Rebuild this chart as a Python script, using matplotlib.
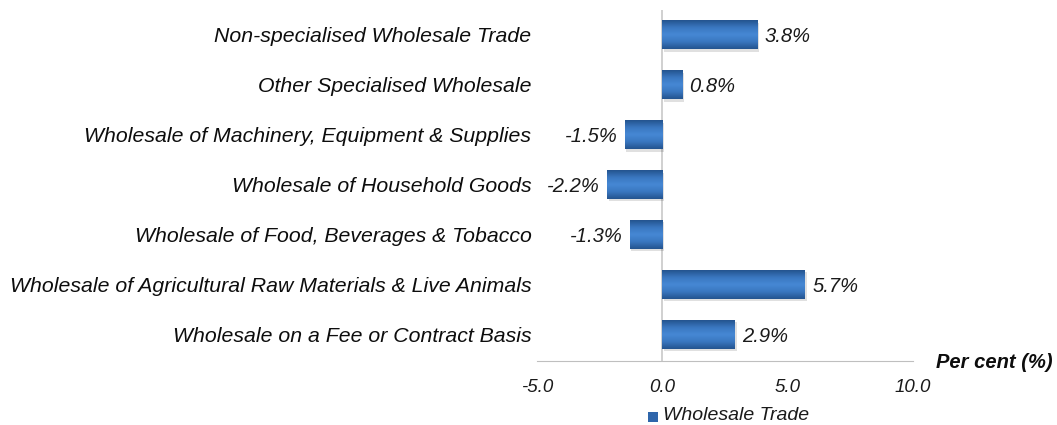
import numpy as np
import matplotlib.pyplot as plt
from matplotlib.colors import LinearSegmentedColormap
from matplotlib.patches import Rectangle

categories = [
    "Non-specialised Wholesale Trade",
    "Other Specialised Wholesale",
    "Wholesale of Machinery, Equipment & Supplies",
    "Wholesale of Household Goods",
    "Wholesale of Food, Beverages & Tobacco",
    "Wholesale of Agricultural Raw Materials & Live Animals",
    "Wholesale on a Fee or Contract Basis",
]
values = [3.8, 0.8, -1.5, -2.2, -1.3, 5.7, 2.9]
xticks = [-5.0, 0.0, 5.0, 10.0]

plt.rcParams['font.family'] = ['Liberation Sans', 'DejaVu Sans']

fig = plt.figure(figsize=(10.57, 4.25), dpi=100)
ax = fig.add_axes([537 / 1057, 64 / 425, 376 / 1057, 351 / 425])

n = len(categories)
ypos = np.arange(n)[::-1]
h = 0.58

# gradient for bars: dark edges, lighter middle
cmap = LinearSegmentedColormap.from_list(
    "bar", ["#24548f", "#3a77c0", "#4688d4", "#3a77c0", "#24548f"])
grad = np.linspace(0, 1, 64).reshape(-1, 1)

for y, v in zip(ypos, values):
    x0, x1 = min(0, v), max(0, v)
    # soft shadow
    ax.add_patch(Rectangle((x0 + 0.06, y - h / 2 - 0.05), x1 - x0, h,
                           color="#000000", alpha=0.12, lw=0, zorder=2))
    ax.imshow(grad, cmap=cmap, aspect="auto", extent=(x0, x1, y - h / 2, y + h / 2),
              zorder=3, interpolation="bicubic")
    if v >= 0:
        ax.text(v + 0.28, y, f"{v:.1f}%", va="center_baseline", ha="left",
                fontsize=14.5, style="italic", color="#1a1a1a")
    else:
        ax.text(v - 0.28, y, f"{v:.1f}%", va="center_baseline", ha="right",
                fontsize=14.5, style="italic", color="#1a1a1a")

ax.set_xlim(-5, 10)
ax.set_ylim(-0.54, n - 0.5)
ax.set_yticks(ypos)
ax.set_yticklabels(categories, fontsize=15.3, style="italic", color="#0d0d0d")
ax.set_xticks(xticks)
ax.set_xticklabels([f"{t:.1f}" for t in xticks], fontsize=13.5, style="italic", color="#1a1a1a")
ax.tick_params(axis="both", length=0)
ax.tick_params(axis="y", pad=4)
ax.tick_params(axis="x", pad=13)

for s in ["top", "right", "left"]:
    ax.spines[s].set_visible(False)
ax.spines["bottom"].set_color("#bfbfbf")
ax.axvline(0, color="#c8c8c8", lw=1.2, zorder=1)

fig.text(1053 / 1057, 1 - 362 / 425, "Per cent (%)", ha="right", va="center", fontsize=14.5,
         style="italic", weight="bold", color="#0d0d0d")

# legend
fig.patches.append(Rectangle((648 / 1057, 1 - 422 / 425), 10 / 1057, 10 / 425,
                             transform=fig.transFigure,
                             facecolor="#2f66ab", edgecolor="none"))
fig.text(663 / 1057, 1 - 416 / 425, "Wholesale Trade", ha="left", va="center", fontsize=14,
         style="italic", color="#1a1a1a")

fig.savefig("out.png", dpi=100)
